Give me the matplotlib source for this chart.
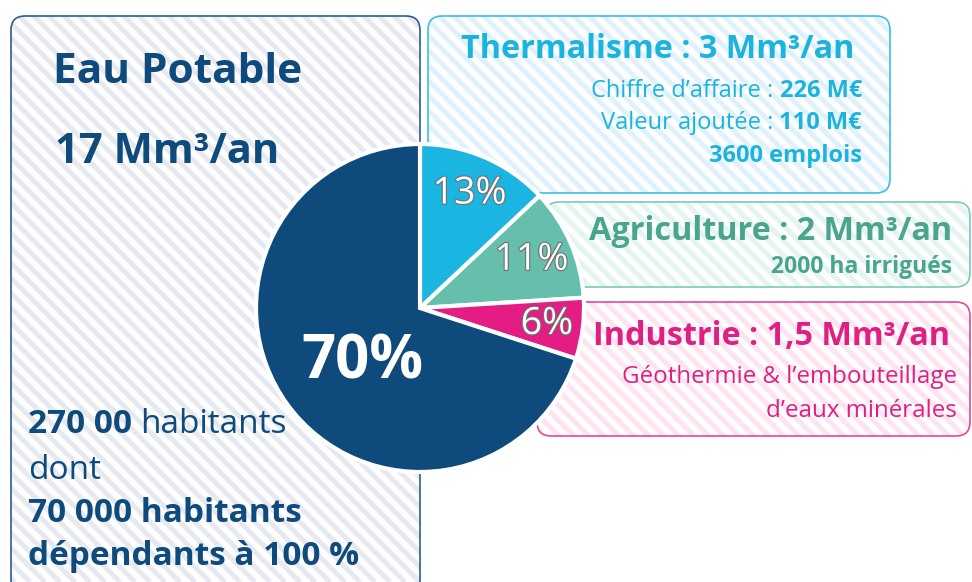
import numpy as np
import matplotlib.pyplot as plt
import matplotlib.patheffects as pe
from matplotlib.patches import FancyBboxPatch
from matplotlib.collections import LineCollection

W, H = 972, 582

# data
sectors = ["Thermalisme", "Agriculture", "Industrie", "Eau Potable"]
shares = [13, 11, 6, 70]
volumes = ["3", "2", "1,5", "17"]
pct_labels = ["13%", "11%", "6%", "70%"]
wedge_colors = ["#1bb5e1", "#66bfac", "#e31d84", "#0e4a7b"]
text_colors = ["#1cb3df", "#4aa58e", "#e01f83", "#0e4a7b"]
stripe_colors = ["#dff2fb", "#e4f4f0", "#fde4f0", "#e7e9f0"]
thermal_lines = [("Chiffre d\u2019affaire : ", "226 M\u20ac"),
                 ("Valeur ajout\u00e9e : ", "110 M\u20ac"),
                 ("", "3600 emplois")]
agri_line = "2000 ha irrigu\u00e9s"
indus_lines = ["G\u00e9othermie & l\u2019embouteillage", "d\u2019eaux min\u00e9rales"]

plt.rcParams['font.family'] = ['Open Sans', 'DejaVu Sans']

fig = plt.figure(figsize=(W / 100, H / 100), dpi=100)
ax = fig.add_axes([0, 0, 1, 1])


def py(y):
    # pixel row -> data y
    return H - y


# stripes shared by all boxes
cs = np.arange(0, W + H + 30, 15)
segs = [[(c, 0), (c - H, H)] for c in cs]


def box(x0, y0, x1, y1, border, stripe):
    p = FancyBboxPatch((x0, py(y1)), x1 - x0, y1 - y0,
                       boxstyle="round,pad=0,rounding_size=14",
                       facecolor="white", edgecolor="none", zorder=1)
    ax.add_patch(p)
    lc = LineCollection(segs, colors=stripe, linewidths=3.6, zorder=1.5)
    ax.add_collection(lc)
    lc.set_clip_path(p)
    ax.add_patch(FancyBboxPatch((x0, py(y1)), x1 - x0, y1 - y0,
                                boxstyle="round,pad=0,rounding_size=14",
                                facecolor="none", edgecolor=border,
                                linewidth=1.2, zorder=2))


box(11, 16, 420, 594, "#2a5f8f", stripe_colors[3])
box(428, 16, 890, 193, "#3dbde6", stripe_colors[0])
box(545, 202, 970, 287, "#7ccab8", stripe_colors[1])
box(537, 302, 970, 436, "#e8479a", stripe_colors[2])

# pie
cx, cy, R = 420, py(308), 164
wedges, _ = ax.pie(shares, colors=wedge_colors, startangle=90, counterclock=False,
                   center=(cx, cy), radius=R, explode=[0.02, 0.02, 0.02, 0],
                   wedgeprops=dict(edgecolor="white", linewidth=3),
                   frame=True)
for w in wedges:
    w.set_zorder(3)

dists = [0.76, 0.74, 0.78, 0.55]
for w, lab, d in zip(wedges, pct_labels, dists):
    ang = np.deg2rad((w.theta1 + w.theta2) / 2)
    x = w.center[0] + d * R * np.cos(ang)
    y = w.center[1] + d * R * np.sin(ang)
    if lab == "70%":
        ax.text(x + 15, y - 2, lab, color="white", fontsize=43, fontweight="bold",
                ha="center", va="center", zorder=4)
    else:
        ax.text(x, y, lab, color="white", fontsize=27, ha="center", va="center",
                zorder=4,
                path_effects=[pe.withStroke(linewidth=1.6, foreground="#707070")])

# Eau potable
c = text_colors[3]
ax.text(53, py(83), sectors[3], color=c, fontsize=30.5, fontweight="bold",
        va="baseline", zorder=4)
ax.text(55, py(163), volumes[3] + " Mm\u00b3/an", color=c, fontsize=30,
        fontweight="bold", va="baseline", zorder=4)
t = ax.text(28, py(433), "270 00", color=c, fontsize=24, fontweight="bold",
            va="baseline", zorder=4)
ax.annotate("habitants", xy=(1, 0), xycoords=t, xytext=(6, 0),
            textcoords="offset points", color=c, fontsize=24,
            ha="left", va="bottom", zorder=4)
ax.text(28, py(479), "dont", color=c, fontsize=24, va="baseline", zorder=4)
ax.text(28, py(522), "70 000 habitants", color=c, fontsize=24,
        fontweight="bold", va="baseline", zorder=4)
ax.text(28, py(565), "d\u00e9pendants \u00e0 100 %", color=c, fontsize=24,
        fontweight="bold", va="baseline", zorder=4)

# Thermalisme
c = text_colors[0]
ax.text(854, py(58), sectors[0] + " : " + volumes[0] + " Mm\u00b3/an", color=c,
        fontsize=23.3, fontweight="bold", ha="right", va="baseline", zorder=4)
for (reg, bold), yb in zip(thermal_lines, [97, 129, 162]):
    t = ax.text(862, py(yb), bold, color=c, fontsize=17, fontweight="bold",
                ha="right", va="baseline", zorder=4)
    if reg:
        ax.annotate(reg.strip(), xy=(0, 0), xycoords=t, xytext=(-4.5, 0),
                    textcoords="offset points", color=c, fontsize=17,
                    ha="right", va="bottom", zorder=4)

# Agriculture
c = text_colors[1]
ax.text(952, py(240), sectors[1] + " : " + volumes[1] + " Mm\u00b3/an", color=c,
        fontsize=23.3, fontweight="bold", ha="right", va="baseline", zorder=4)
ax.text(952, py(273), agri_line, color=c, fontsize=16.5, fontweight="bold",
        ha="right", va="baseline", zorder=4)

# Industrie
c = text_colors[2]
ax.text(950, py(345), sectors[2] + " : " + volumes[2] + " Mm\u00b3/an", color=c,
        fontsize=23.3, fontweight="bold", ha="right", va="baseline", zorder=4)
for line, yb in zip(indus_lines, [383, 417]):
    ax.text(957, py(yb), line, color=c, fontsize=17.4, ha="right",
            va="baseline", zorder=4)

ax.set_xlim(0, W)
ax.set_ylim(0, H)
ax.set_aspect("equal")
ax.axis("off")
fig.savefig("out.png", dpi=100)
